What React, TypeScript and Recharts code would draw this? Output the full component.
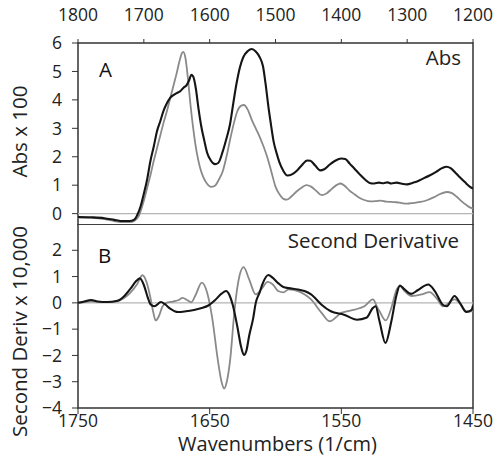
import React from 'react';
import { LineChart, Line, XAxis, YAxis, ReferenceLine, ReferenceArea } from 'recharts';

// Panel A: absorbance spectra (wavenumber, Abs x 100)
const absBlackW = [1800, 1780, 1760, 1745, 1735, 1722, 1714, 1710, 1705, 1700, 1695, 1690, 1685, 1680, 1675, 1670, 1665, 1660, 1655, 1650, 1645, 1640, 1635, 1631, 1628, 1625, 1621, 1617, 1613, 1608, 1604, 1598, 1592, 1587, 1580, 1575, 1569, 1564, 1559, 1554, 1549, 1542, 1536, 1530, 1524, 1519, 1515, 1511, 1507, 1503, 1498, 1494, 1488, 1482, 1475, 1468, 1460, 1452, 1447, 1440, 1432, 1426, 1418, 1410, 1400, 1394, 1387, 1380, 1372, 1364, 1357, 1350, 1343, 1336, 1330, 1324, 1316, 1308, 1300, 1292, 1285, 1276, 1266, 1256, 1247, 1240, 1234, 1226, 1220, 1212, 1205, 1200];
const absBlackV = [-0.12, -0.13, -0.16, -0.22, -0.26, -0.26, -0.2, -0.05, 0.25, 0.7, 1.2, 1.85, 2.35, 2.9, 3.25, 3.62, 3.88, 4.07, 4.17, 4.24, 4.3, 4.42, 4.52, 4.7, 4.88, 4.82, 4.4, 3.7, 3.1, 2.55, 2.15, 1.86, 1.74, 1.78, 2.2, 2.6, 3.15, 3.9, 4.6, 5.15, 5.5, 5.72, 5.79, 5.7, 5.5, 5.18, 4.55, 3.8, 3.15, 2.55, 2.1, 1.8, 1.5, 1.34, 1.38, 1.5, 1.7, 1.87, 1.86, 1.7, 1.52, 1.56, 1.72, 1.85, 1.94, 1.92, 1.75, 1.58, 1.38, 1.2, 1.08, 1.06, 1.09, 1.07, 1.1, 1.06, 1.09, 1.05, 1.03, 1.08, 1.13, 1.23, 1.34, 1.47, 1.6, 1.65, 1.6, 1.42, 1.28, 1.1, 0.95, 0.88];
const absGrayW = [1800, 1780, 1760, 1745, 1735, 1722, 1714, 1708, 1704, 1700, 1695, 1690, 1685, 1680, 1675, 1670, 1665, 1660, 1655, 1650, 1646, 1642, 1640, 1637, 1633, 1629, 1625, 1620, 1615, 1610, 1604, 1598, 1592, 1586, 1580, 1574, 1569, 1563, 1558, 1552, 1548, 1542, 1536, 1530, 1524, 1518, 1512, 1506, 1500, 1494, 1488, 1483, 1476, 1468, 1460, 1453, 1446, 1438, 1430, 1422, 1414, 1406, 1401, 1395, 1388, 1380, 1372, 1364, 1356, 1348, 1340, 1332, 1324, 1316, 1308, 1300, 1290, 1280, 1270, 1260, 1250, 1240, 1232, 1225, 1218, 1210, 1204, 1200];
const absGrayV = [-0.14, -0.15, -0.19, -0.26, -0.3, -0.3, -0.25, -0.1, 0.15, 0.45, 0.9, 1.35, 1.85, 2.3, 2.75, 3.2, 3.6, 4.05, 4.5, 4.95, 5.35, 5.65, 5.69, 5.5, 4.75, 3.8, 3.0, 2.2, 1.65, 1.3, 1.05, 0.94, 0.98, 1.2, 1.5, 2.05, 2.6, 3.2, 3.6, 3.8, 3.82, 3.65, 3.3, 3.0, 2.7, 2.35, 1.95, 1.45, 0.95, 0.68, 0.52, 0.49, 0.6, 0.78, 0.92, 1.0, 0.95, 0.8, 0.65, 0.72, 0.88, 1.02, 1.06, 0.98, 0.82, 0.68, 0.55, 0.47, 0.43, 0.44, 0.46, 0.42, 0.41, 0.4, 0.37, 0.35, 0.38, 0.41, 0.47, 0.57, 0.69, 0.76, 0.72, 0.6, 0.45, 0.3, 0.21, 0.18];

// Panel B: second derivative (wavenumber, x 10,000)
const derBlackW = [1750, 1746, 1740, 1735, 1728, 1720, 1715, 1710, 1706, 1703, 1700, 1697, 1695, 1692, 1687, 1684, 1680, 1674, 1668, 1662, 1656, 1651, 1646, 1641, 1637.5, 1635, 1632.5, 1629, 1626, 1624, 1622, 1620, 1617, 1615, 1612, 1610, 1605.5, 1602, 1598, 1594, 1590, 1583, 1578, 1573, 1565, 1558, 1548, 1538, 1531, 1526, 1524, 1521, 1516.5, 1512, 1508, 1505.5, 1502, 1497, 1492, 1484, 1479, 1473, 1470, 1464, 1460, 1455, 1451, 1450];
const derBlackV = [0, 0.04, 0.11, 0.05, 0.03, 0.08, 0.25, 0.55, 0.82, 0.93, 0.68, 0.2, -0.05, -0.13, 0.03, -0.05, -0.22, -0.35, -0.32, -0.27, -0.2, -0.1, 0.1, 0.35, 0.45, 0.3, -0.07, -0.9, -1.7, -1.98, -1.8, -1.25, -0.6, 0, 0.4, 0.7, 1.06, 0.95, 0.75, 0.6, 0.56, 0.51, 0.45, 0.32, -0.07, -0.32, -0.45, -0.64, -0.57, -0.19, -0.13, -0.7, -1.53, -0.7, 0.32, 0.66, 0.51, 0.34, 0.48, 0.7, 0.45, -0.07, -0.13, 0.26, 0, -0.35, -0.26, -0.1];
const derGrayW = [1750, 1745, 1740, 1735, 1728, 1720, 1715, 1710, 1705, 1701, 1698, 1695, 1693, 1691, 1688.5, 1686, 1683, 1678, 1674, 1670.5, 1667, 1664, 1660.5, 1656, 1652, 1648, 1644, 1641, 1639, 1637, 1634.3, 1631.2, 1627.4, 1624.2, 1620, 1615, 1610, 1606, 1602, 1598, 1594, 1590, 1583, 1573, 1565, 1559, 1550, 1540, 1532.5, 1526, 1522.5, 1521, 1516.3, 1512, 1508, 1505.5, 1502, 1497, 1489, 1483, 1477, 1473, 1464, 1459, 1455, 1450];
const derGrayV = [0, 0.03, 0.06, 0.04, 0.03, 0.06, 0.18, 0.4, 0.72, 1.05, 0.8, 0.2, -0.32, -0.67, -0.5, -0.15, 0, 0.05, 0.1, 0.19, 0.1, 0.02, 0.32, 0.77, 0.4, -0.6, -2.1, -3.0, -3.26, -3.0, -2.1, -0.32, 1.02, 1.36, 0.89, 0.32, 0.57, 0.8, 0.7, 0.45, 0.4, 0.51, 0.45, 0.13, -0.38, -0.7, -0.38, -0.26, -0.13, 0.13, -0.19, -0.32, -0.67, -0.19, 0.51, 0.64, 0.45, 0.26, 0.32, 0.41, 0.13, -0.13, 0.13, -0.07, -0.32, -0.32];

const absXTicks = [1800, 1700, 1600, 1500, 1400, 1300, 1200];
const absYTicks = [0, 1, 2, 3, 4, 5, 6];
const derXTicks = [1750, 1650, 1550, 1450];
const derYTicks = [-4, -3, -2, -1, 0, 1, 2];

const zip = (w: number[], v: number[]) => w.map((x, i) => ({ w: x, v: v[i] }));

const FONT = '"Open Sans", sans-serif';
const tickStyle = { fontSize: 17.5, fill: '#222', fontFamily: FONT };
const fmt = (v: number) => (v < 0 ? `\u2212${-v}` : `${v}`);

const BLACK = '#151515';
const GRAY = '#8a8a8a';

export default function App() {
  return (
    <div style={{ position: 'absolute', left: 0, top: 0, width: 495, height: 458, background: '#fff' }}>
      <div style={{ position: 'absolute', left: 0, top: 0 }}>
        <LineChart width={495} height={225} margin={{ top: 0, right: 22, bottom: 0, left: 0 }}>
          <XAxis
            dataKey="w"
            type="number"
            orientation="top"
            domain={[1200, 1800]}
            reversed
            ticks={absXTicks}
            height={43}
            axisLine={false}
            tickSize={4}
            tickMargin={18}
            tick={tickStyle}
            tickLine={{ stroke: '#333' }}
            allowDataOverflow
          />
          <YAxis
            type="number"
            domain={[-0.4, 6]}
            ticks={absYTicks}
            width={78}
            axisLine={false}
            tickSize={6}
            tickMargin={10}
            tick={tickStyle}
            tickLine={{ stroke: '#333' }}
            allowDataOverflow
          />
          <ReferenceLine y={0} stroke="#b5b5b5" strokeWidth={1.3} />
          <Line data={zip(absGrayW, absGrayV)} dataKey="v" type="monotone" stroke={GRAY} strokeWidth={1.8} dot={false} isAnimationActive={false} />
          <Line data={zip(absBlackW, absBlackV)} dataKey="v" type="monotone" stroke={BLACK} strokeWidth={2.1} dot={false} isAnimationActive={false} />
          <ReferenceArea x1={1200} x2={1800} y1={-0.4} y2={6} fill="none" fillOpacity={0} stroke="#333" strokeWidth={1.5} ifOverflow="visible" />
          <text x={99} y={77} fontSize={20.5} fontFamily={FONT} fill="#111">A</text>
          <text x={461} y={65} fontSize={20.5} fontFamily={FONT} fill="#222" textAnchor="end">Abs</text>
          <text transform="translate(26.5,131.5) rotate(-90)" fontSize={20.5} fontFamily={FONT} fill="#222" textAnchor="middle">Abs x 100</text>
        </LineChart>
      </div>
      <div style={{ position: 'absolute', left: 0, top: 224 }}>
        <LineChart width={495} height={234} margin={{ top: 0, right: 22, bottom: 0, left: 0 }}>
          <XAxis
            dataKey="w"
            type="number"
            orientation="bottom"
            domain={[1450, 1750]}
            reversed
            ticks={derXTicks}
            height={50}
            axisLine={false}
            tickSize={6}
            tickMargin={1}
            tick={tickStyle}
            tickLine={{ stroke: '#333' }}
            allowDataOverflow
          />
          <YAxis
            type="number"
            domain={[-4, 3]}
            ticks={derYTicks}
            width={78}
            axisLine={false}
            tickSize={6}
            tickMargin={10}
            tick={tickStyle}
            tickFormatter={fmt}
            tickLine={{ stroke: '#333' }}
            allowDataOverflow
          />
          <ReferenceLine y={0} stroke="#b5b5b5" strokeWidth={1.3} />
          <Line data={zip(derGrayW, derGrayV)} dataKey="v" type="monotone" stroke={GRAY} strokeWidth={1.8} dot={false} isAnimationActive={false} />
          <Line data={zip(derBlackW, derBlackV)} dataKey="v" type="monotone" stroke={BLACK} strokeWidth={2.1} dot={false} isAnimationActive={false} />
          <ReferenceArea x1={1450} x2={1750} y1={-4} y2={3} fill="none" fillOpacity={0} stroke="#333" strokeWidth={1.5} ifOverflow="visible" />
          <text x={98} y={39} fontSize={20.5} fontFamily={FONT} fill="#111">B</text>
          <text x={459} y={24} fontSize={20.5} fontFamily={FONT} fill="#222" textAnchor="end">Second Derivative</text>
          <text transform="translate(26.5,107.5) rotate(-90)" fontSize={20.5} fontFamily={FONT} fill="#222" textAnchor="middle">Second Deriv x 10,000</text>
          <text x={277.5} y={227} fontSize={20} fontFamily={FONT} fill="#222" textAnchor="middle">Wavenumbers (1/cm)</text>
        </LineChart>
      </div>
    </div>
  );
}
